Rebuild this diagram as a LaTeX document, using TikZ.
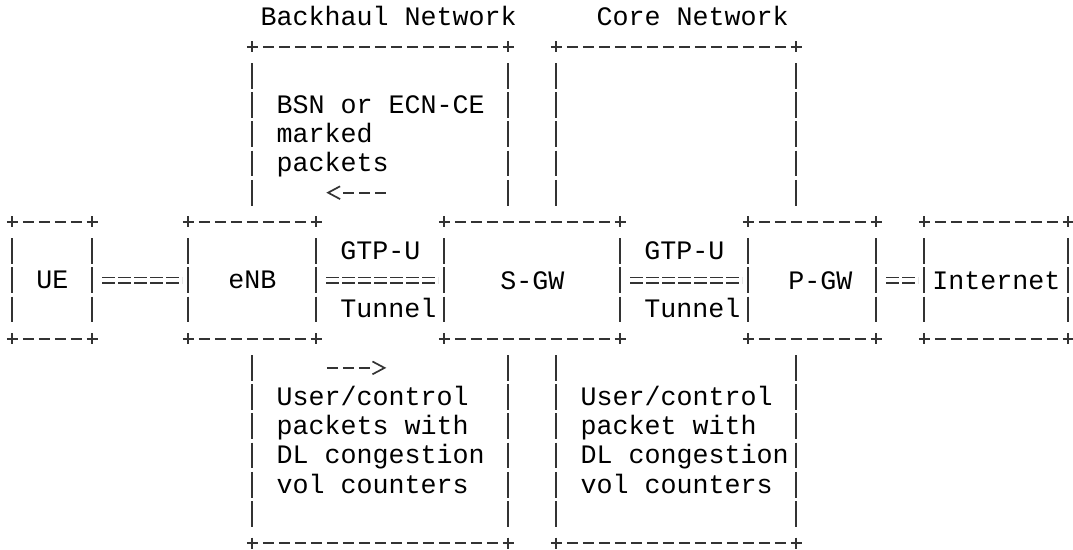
\documentclass[tikz,border=0pt]{standalone}
\usepackage{fontspec}
\setmonofont{Liberation Mono}
\usepackage{tikz}
\usetikzlibrary{arrows.meta,positioning}
\newcommand{\asciifont}{\ttfamily\fontsize{13.33pt}{14.6pt}\selectfont}
\tikzset{
  netbox/.style={inner sep=0pt, outer sep=0pt, font=\asciifont, minimum height=58.4pt},
  areabox/.style={inner sep=0pt, outer sep=0pt, minimum height=248.2pt},
  asc/.style={line width=0.85pt, draw=black!80},
  hdash/.style={asc, dash pattern=on 5.5pt off 2.5pt, dash phase=2.75pt},
  vdash/.style={asc, dash pattern=on 12.85pt off 1.75pt, shorten <=8.175pt, shorten >=8.175pt},
  link/.style={asc, double, double distance=1.8pt, dash pattern=on 6.3pt off 1.7pt, dash phase=6.3pt, shorten <=3.15pt, shorten >=3.15pt},
  flow/.style={asc, -{Straight Barb[length=6pt,width=6.4pt]}, dash pattern=on 5.5pt off 2.5pt on 5.5pt off 2.5pt on 5.5pt off 8pt},
  note/.style={font=\asciifont, inner sep=0pt, anchor=base west, align=left},
  tag/.style={font=\asciifont, inner sep=0pt, anchor=base}
}
\begin{document}
\begin{tikzpicture}[x=8pt, y=-14.6pt]
  \useasboundingbox (-0.769,-0.599) rectangle (66.294,18.236);
  % network elements
  \node[netbox, minimum width=40pt] (ue) at (2.5,9) {UE};
  \node[netbox, minimum width=64pt, right=48pt of ue] (enb) {eNB};
  \node[netbox, minimum width=88pt, right=64pt of enb] (sgw) {S-GW};
  \node[netbox, minimum width=64pt, right=64pt of sgw] (pgw) {\hspace*{8pt}P-GW};
  \node[netbox, minimum width=72pt, right=24pt of pgw] (inet) {Internet};
  % network areas
  \node[areabox, minimum width=128pt] (bh) at (23,9.5) {};
  \node[areabox, minimum width=120pt] (cn) at (41.5,9.5) {};
  \foreach \nd in {ue,enb,sgw,pgw,inet}{
    \draw[hdash] (\nd.north west) -- (\nd.north east);
    \draw[hdash] (\nd.south west) -- (\nd.south east);
    \draw[vdash] (\nd.north west) -- (\nd.south west);
    \draw[vdash] (\nd.north east) -- (\nd.south east);
  }
  \foreach \nd in {bh,cn}{
    \draw[hdash] (\nd.north west) -- (\nd.north east);
    \draw[hdash] (\nd.south west) -- (\nd.south east);
    \draw[vdash] (\nd.north west) -- (\nd.north west |- sgw.north);
    \draw[vdash] (\nd.north east) -- (\nd.north east |- sgw.north);
    \draw[vdash] (\nd.south west |- sgw.south) -- (\nd.south west);
    \draw[vdash] (\nd.south east |- sgw.south) -- (\nd.south east);
  }
  % corners
  \foreach \nd in {ue,enb,sgw,pgw,inet,bh,cn}
    \foreach \an in {north west,north east,south west,south east}{
      \draw[asc] ([yshift=2.75pt]\nd.\an) -- ([yshift=-2.75pt]\nd.\an);
      \draw[asc] ([xshift=-2.75pt]\nd.\an) -- ([xshift=2.75pt]\nd.\an);
    }
  % titles and notes (base = last line)
  \node[note] (bhtitle) at (15.5,0.288) {Backhaul Network};
  \node[note] (cntitle) at (36.5,0.288) {Core Network};
  \node[note] (bsn) at (16.5,5.288) {BSN or ECN-CE\\marked\\packets};
  \node[note] (ulnote) at (16.5,16.288) {User/control\\packets with\\DL congestion\\vol counters};
  \node[note] (dlnote) at (35.5,16.288) {User/control\\packet with\\DL congestion\\vol counters};
  % links
  \draw[link] (ue.east) -- (enb.west);
  \draw[link] (enb.east) -- node[tag, yshift=10.4pt] {GTP-U} node[tag, xshift=4pt, yshift=-18.8pt] {Tunnel} (sgw.west);
  \draw[link] (sgw.east) -- node[tag, yshift=10.4pt] {GTP-U} node[tag, xshift=4pt, yshift=-18.8pt] {Tunnel} (pgw.west);
  \draw[link] (pgw.east) -- (inet.west);
  % direction arrows
  \coordinate (markfrom) at (23.344,6);
  \coordinate (markto) at (19.625,6);
  \draw[flow] (markfrom) -- (markto);
  \coordinate (ctrlfrom) at (19.656,12);
  \coordinate (ctrlto) at (23.375,12);
  \draw[flow] (ctrlfrom) -- (ctrlto);
\end{tikzpicture}
\end{document}
